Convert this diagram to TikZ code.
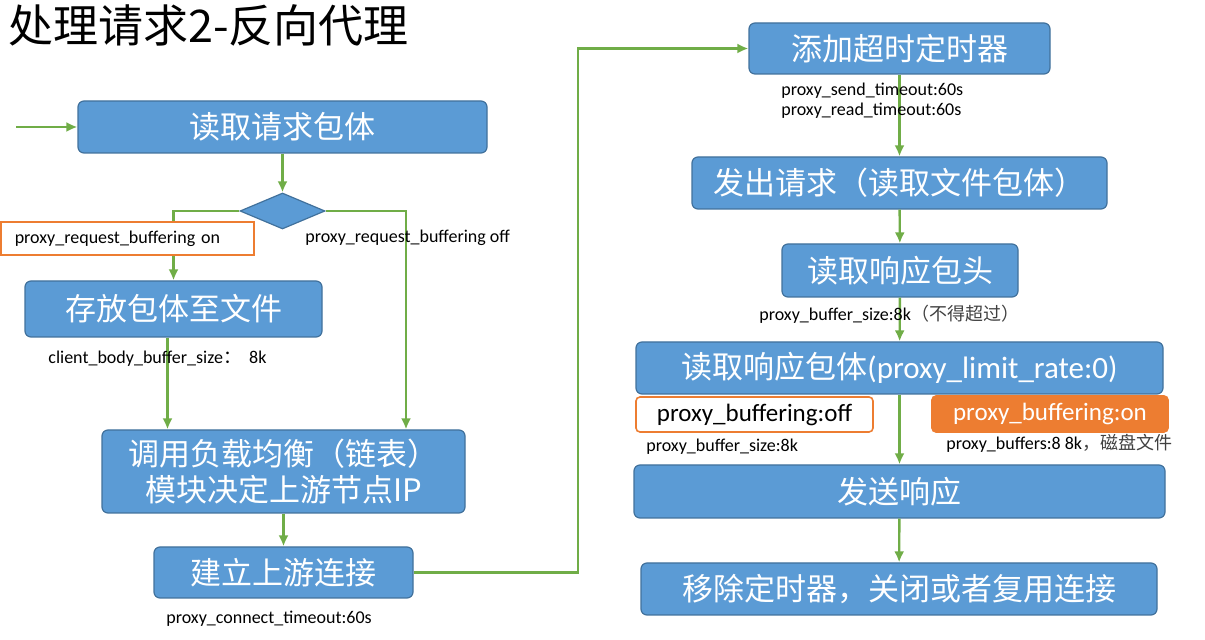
\documentclass[tikz,border=0pt]{standalone}
\usepackage{fontspec}
\setmainfont{Carlito}
\newfontfamily\cjk{Noto Sans CJK SC}
\usepackage{tikz}
\usetikzlibrary{arrows.meta,calc,shapes.geometric}
\definecolor{boxblue}{HTML}{5B9BD5}
\definecolor{boxline}{HTML}{41719C}
\definecolor{flowgreen}{HTML}{70AD47}
\definecolor{bufforange}{HTML}{ED7D31}
\definecolor{notegray}{HTML}{404040}
\tikzset{
  procbox/.style={draw=boxline, line width=0.6pt, fill=boxblue, rounded corners=3pt,
    text=white, font=\cjk\fontsize{15.5}{18}\selectfont, inner sep=0pt, align=center},
  flow/.style={draw=flowgreen, line width=1.2pt, -{Latex[length=5.5pt,width=5pt]}},
  note/.style={anchor=west, inner sep=0pt, font=\fontsize{9}{11}\selectfont},
  optbox/.style={draw=bufforange, line width=0.8pt, rounded corners=2pt, inner sep=0pt,
    font=\fontsize{12.5}{14}\selectfont},
}
\begin{document}
\begin{tikzpicture}[x=0.5pt,y=-0.5pt]
\useasboundingbox (0,0) rectangle (1205,640);
\node[anchor=west, inner sep=0pt, font=\cjk\fontsize{22.5}{26}\selectfont] (title) at (8,25) {处理请求2-反向代理};

\node[procbox, minimum width=204.5pt, minimum height=26pt] (readbody) at (282.5,127) {读取请求包体};
\node[diamond, draw=boxline, line width=0.6pt, fill=boxblue, inner sep=0pt,
  minimum width=42.5pt, minimum height=18pt] (choice) at (282.5,211) {};
\node[procbox, minimum width=148.5pt, minimum height=28pt] (store) at (173.5,309) {存放包体至文件};
\node[procbox, minimum width=181.5pt, minimum height=41.5pt] (balance) at (283.5,471.5) {调用负载均衡（链表）\\ 模块决定上游节点IP};
\node[procbox, minimum width=129.5pt, minimum height=25.5pt] (connect) at (283.5,572.5) {建立上游连接};

\node[procbox, minimum width=150.5pt, minimum height=25.5pt] (addtimer) at (899.5,48.5) {添加超时定时器};
\node[procbox, minimum width=207.5pt, minimum height=26pt] (sendreq) at (899.5,183) {发出请求（读取文件包体）};
\node[procbox, minimum width=118pt, minimum height=26.5pt] (readhead) at (900,270.5) {读取响应包头};
\node[procbox, minimum width=263.5pt, minimum height=26pt] (readresp) at (899.5,368) {读取响应包体\fontspec{Carlito}(proxy\_limit\_rate:0)};
\node[procbox, minimum width=265.5pt, minimum height=26.5pt] (sendresp) at (899.5,491.5) {发送响应};
\node[procbox, minimum width=258pt, minimum height=26pt] (finish) at (899,589) {移除定时器，关闭或者复用连接};

\coordinate (start) at (16,127);
\coordinate (turn) at (578,572.5);
\draw[flow] (start) -- (readbody.west);
\draw[flow] (readbody) -- (choice);
\draw[flow] (choice.west) -| (store.north);
\draw[flow] (choice.east) -| ($(balance.north)+(122.5,0)$);
\draw[flow] ([xshift=-3pt]store.south) -- ([xshift=-3pt]store.south |- balance.north);
\draw[flow] (balance) -- (connect);
\draw[flow] (connect.east) -- (turn) |- (addtimer.west);
\foreach \a/\b in {addtimer/sendreq, sendreq/readhead, readhead/readresp, readresp/sendresp, sendresp/finish}
  \draw[flow] (\a) -- (\b);

\node[optbox, fill=white, rounded corners=0pt, anchor=west, text width=112.5pt, inner xsep=7pt,
  minimum height=16.5pt, align=left, font=\fontsize{9}{11}\selectfont] (reqon) at (0,238.5) {proxy\_request\_buffering on};
\node[note] (reqoff) at (305,238) {proxy\_request\_buffering off};
\node[note] (bodysize) at (48,359) {client\_body\_buffer\_size{\cjk ：}\ \ 8k};
\node[note] (conntime) at (166,619) {proxy\_connect\_timeout:60s};
\node[note] (sendtime) at (781,91) {proxy\_send\_timeout:60s};
\node[note] (readtime) at (781,111) {proxy\_read\_timeout:60s};
\node[note] (headsize) at (759,314) {proxy\_buffer\_size:8k{\cjk\color{notegray}（不得超过）}};
\node[optbox, fill=white, minimum width=118.5pt, minimum height=17.5pt] (buffoff) at (754.5,414.5) {proxy\_buffering:off};
\node[optbox, fill=bufforange, text=white, minimum width=118pt, minimum height=18pt] (buffon) at (1050,414) {proxy\_buffering:on};
\node[note] (offsize) at (646,447) {proxy\_buffer\_size:8k};
\node[note] (onsize) at (946,443) {proxy\_buffers:8 8k{\cjk\color{notegray}，磁盘文件}};
\end{tikzpicture}
\end{document}
